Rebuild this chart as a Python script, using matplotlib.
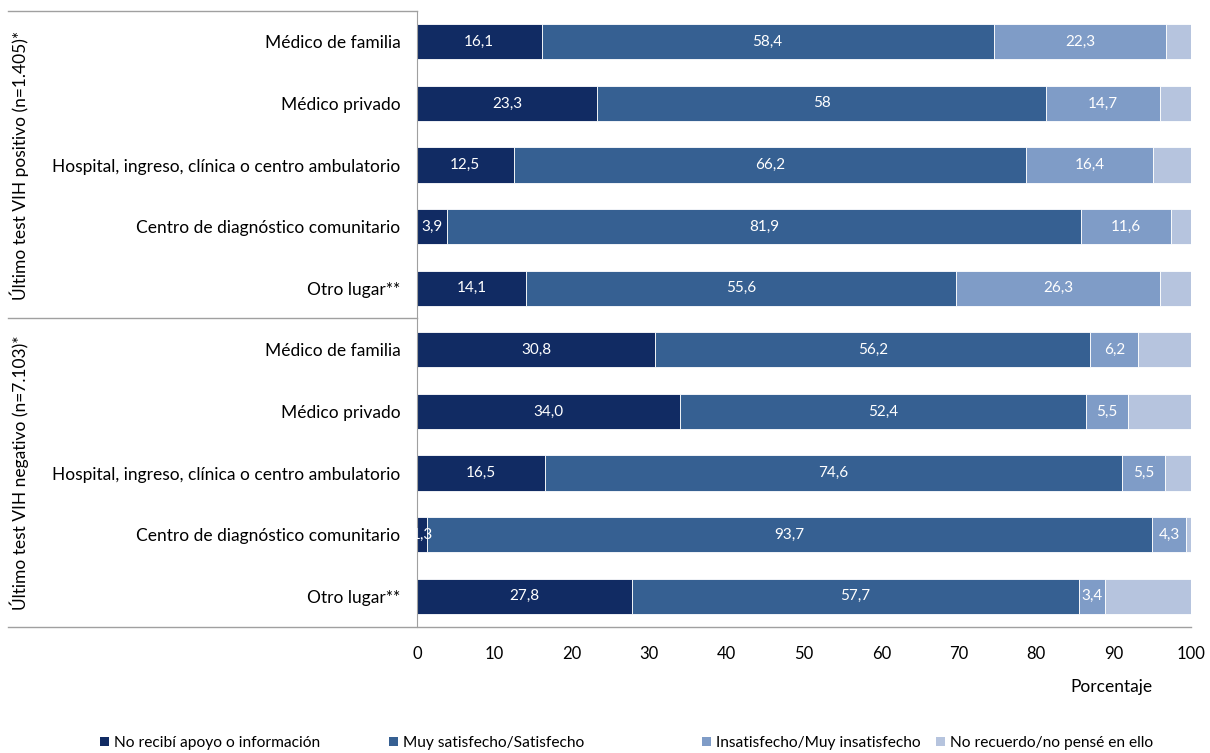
import matplotlib.pyplot as plt
from matplotlib.lines import Line2D
from matplotlib.patches import Patch

plt.rcParams['font.family'] = ['Lato', 'DejaVu Sans']

places = ["Médico de familia", "Médico privado",
          "Hospital, ingreso, clínica o centro ambulatorio",
          "Centro de diagnóstico comunitario", "Otro lugar**"]
labels_y = places + places
groups = ["Último test VIH positivo (n=1.405)*", "Último test VIH negativo (n=7.103)*"]

no_apoyo = [16.1, 23.3, 12.5, 3.9, 14.1, 30.8, 34.0, 16.5, 1.3, 27.8]
satisfecho = [58.4, 58, 66.2, 81.9, 55.6, 56.2, 52.4, 74.6, 93.7, 57.7]
insatisfecho = [22.3, 14.7, 16.4, 11.6, 26.3, 6.2, 5.5, 5.5, 4.3, 3.4]
no_recuerdo = [3.2, 4.0, 4.9, 2.6, 4.0, 6.8, 8.1, 3.4, 0.7, 11.1]
text_1 = ["16,1", "23,3", "12,5", "3,9", "14,1", "30,8", "34,0", "16,5", "1,3", "27,8"]
text_2 = ["58,4", "58", "66,2", "81,9", "55,6", "56,2", "52,4", "74,6", "93,7", "57,7"]
text_3 = ["22,3", "14,7", "16,4", "11,6", "26,3", "6,2", "5,5", "5,5", "4,3", "3,4"]

series = ["No recibí apoyo o información", "Muy satisfecho/Satisfecho",
          "Insatisfecho/Muy insatisfecho", "No recuerdo/no pensé en ello"]
colors = ["#112b63", "#366092", "#7f9cc7", "#b6c4de"]

fig = plt.figure(figsize=(12.1, 7.53), dpi=100)
ax = fig.add_axes([0.3446, 0.1673, 0.6397, 0.8181])

y = list(range(len(labels_y)))
left = [0] * len(y)
for vals, col, txt in zip([no_apoyo, satisfecho, insatisfecho, no_recuerdo], colors,
                          [text_1, text_2, text_3, None]):
    bars = ax.barh(y, vals, left=left, height=0.57, color=col, edgecolor='white', linewidth=0.6)
    if txt is not None:
        for b, t, v, l in zip(bars, txt, vals, left):
            ax.text(l + v / 2, b.get_y() + b.get_height() / 2, t, ha='center', va='center',
                    color='white', fontsize=11, clip_on=True)
    left = [a + b for a, b in zip(left, vals)]

ax.set_ylim(9.5, -0.5)
ax.set_xlim(0, 100)
ax.set_yticks(y)
ax.set_yticklabels(labels_y, fontsize=12.5)
ax.set_xticks(range(0, 101, 10))
ax.tick_params(axis='x', length=0, labelsize=12, pad=14)
ax.tick_params(axis='y', length=0, pad=12)
for s in ['top', 'right', 'bottom']:
    ax.spines[s].set_visible(False)
ax.spines['left'].set_color('#a0a0a0')
ax.set_xlabel("Porcentaje", fontsize=12.5)
ax.xaxis.set_label_coords(0.897, -0.085)

# group frame lines
lc = '#a0a0a0'
for yy in [1 - 11 / 753, 1 - 318 / 753]:
    fig.add_artist(Line2D([8 / 1210, 417 / 1210], [yy, yy], color=lc, lw=1))
fig.add_artist(Line2D([8 / 1210, 1191 / 1210], [1 - 627 / 753] * 2, color=lc, lw=1))
for g, yc in zip(groups, [165, 473]):
    fig.text(19 / 1210, 1 - yc / 753, g, rotation=90, ha='center', va='center', fontsize=12.5)

# legend entries placed one by one, like the original
for name, col, xpos in zip(series, colors, [100, 389, 702, 936]):
    fig.legend([Patch(facecolor=col, edgecolor='none')], [name], loc='center left',
               bbox_to_anchor=(xpos / 1210, 1 - 743 / 753), frameon=False, fontsize=11.2,
               handlelength=0.6, handleheight=0.6, handletextpad=0.3,
               borderpad=0, borderaxespad=0)

fig.savefig("out.png", dpi=100)
